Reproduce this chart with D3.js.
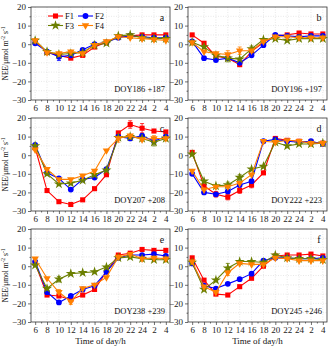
<!DOCTYPE html>
<html>
<head>
<meta charset="utf-8">
<script src="https://cdn.jsdelivr.net/npm/d3@7"></script>
<style>
  body { margin: 0; background: #fff; }
  svg text { font-family: "Liberation Serif", "DejaVu Serif", serif; }
</style>
</head>
<body>
<div id="chart"></div>
<script>
var hours = ["6","8","10","12","14","16","18","20","22","24","2","4"];
var seriesNames = ["F1","F2","F3","F4"];
var panelLetters = ["a","b","c","d","e","f"];
var panelDays = ["DOY186 +187","DOY196 +197","DOY207 +208","DOY222 +223","DOY238 +239","DOY245 +246"];
var yTicks = [20,10,0,-10,-20,-30];

// NEE values, one array per series for each panel
var neeA = [
  [1.5,-4.5,-6,-7.5,-6,-1.5,1,4,4.5,5,5,5],
  [0.5,-4,-6.8,-6,-3,0,1,3.5,4.5,4,3.5,3.5],
  [2,-4,-5.5,-5,-4.5,-0.5,0.5,4.5,5,3.5,3,3],
  [2,-4.5,-5,-4,-5,-0.5,1.5,4,3.5,3,2.5,2]
];
var neeB = [
  [5,0.5,-6.5,-7.5,-11,-4,1,4.5,5,6,5.5,5.5],
  [1.5,-7.5,-8.5,-7.5,-10,-6,-0.5,5,4.5,4,4.5,4.5],
  [1,-1.5,-6,-7.5,-8,-2.5,2.5,3,2,3,3,3],
  [1,-4,-5,-5.5,-3.5,-3.5,1.5,4,4,3.5,3.5,3.5]
];
var neeC = [
  [4,-19,-25,-26.5,-24,-18,-10.5,12,16.5,14.5,13,12.5],
  [5.5,-9.5,-12.5,-18.5,-13,-12,-7.5,10,9,10.5,7.5,10],
  [5,-10,-15.5,-15,-13.5,-10.5,-8,9.5,10,9,7,9],
  [3,-7.5,-13,-13,-11,-8.5,2.5,9,10.5,8.5,9,9]
];
var neeD = [
  [1.5,-16.5,-21,-22.5,-19,-16,-9.5,9,8,7.5,7,6.5],
  [-10,-20,-21,-19.5,-16,-14,7.5,8.5,7.5,7,7.5,6],
  [0.5,-14,-16.5,-16,-12,-7.5,-6,7,5,6,6,6.5],
  [-8.5,-18.5,-17,-17,-15,-10.5,7.5,7,8,7.5,6.5,6.5]
];
var neeE = [
  [1.5,-15.5,-16,-18,-15.5,-12.5,-3,6,7,9,8.5,8.5],
  [2.5,-14,-19.5,-16,-12.5,-10.5,-3,4.5,6,6,6.5,5.5],
  [0.5,-12,-7,-4,-3.5,-3,-0.5,4.5,5,4,3.5,3.5],
  [4,-6.5,-14,-19,-12,-10,-6,5,6.5,4,4.5,4]
];
var neeF = [
  [4.5,-7.5,-15,-15.5,-11,-6.5,0,5.5,6,6,6.5,5.5],
  [1.5,-10.5,-12,-9.5,-7,-4,3,4.5,4.5,4,4,4.5],
  [2,-12.5,-7.5,-1,2.5,2.5,2,6,4.5,4,4,3.5],
  [2.5,-11,-14,-3.5,1.5,1,1,4.5,4,3,3,3]
];
var panelData = [neeA, neeB, neeC, neeD, neeE, neeF];

// visible error bars: panel, series, hour index, half-width
var errBars = [
  [0,1,2,2],[0,2,3,1.5],[0,3,4,1.5],
  [1,3,3,2],[1,3,4,2],[1,2,3,2],[1,2,5,1.5],
  [2,0,8,2],[2,0,9,2.5],[2,3,7,2],[2,2,10,2],[2,3,10,1.5],
  [3,0,2,1.5],[3,0,3,1.5],[3,0,4,1.5],[3,0,5,1.5],[3,2,3,1.5],[3,2,4,1.5],
  [4,2,2,1.5],[4,3,2,1.5],[4,3,3,1.5],
  [5,2,3,2.5],[5,3,3,1.5]
];

var colors = ["#ff0000","#0000ff","#6b7f00","#ff8000"];
var symbols = [d3.symbolSquare, d3.symbolCircle, d3.symbolStar, d3.symbolTriangle];
var symSizes = [26, 26, 32, 24];

var W = 330, H = 347;
var colX = [31, 188], colW = 139;
var rowY = [7, 118, 229], rowH = 93;

var svg = d3.select("#chart").append("svg")
  .attr("width", W).attr("height", H);

function marker(g, s, x, y){
  g.append("path")
    .attr("d", d3.symbol().type(symbols[s]).size(symSizes[s]))
    .attr("transform", "translate(" + x + "," + y + ")" + (s == 3 ? " rotate(180)" : ""))
    .attr("fill", colors[s]);
}

panelData.forEach(function(series, p){
  var col = p % 2, row = Math.floor(p / 2);
  var g = svg.append("g").attr("transform", "translate(" + colX[col] + "," + rowY[row] + ")");

  var x = d3.scaleLinear().domain([-0.35, 11.35]).range([0, colW]);
  var y = d3.scaleLinear().domain([-30, 20]).range([rowH, 0]);

  // grid
  g.append("g").selectAll("line.gy").data(d3.range(-25, 20, 5)).enter().append("line")
    .attr("x1", 0).attr("x2", colW).attr("y1", d => y(d)).attr("y2", d => y(d))
    .attr("stroke", "#d8d8d8").attr("stroke-width", 0.6).attr("stroke-dasharray", "1,1.5");
  g.append("g").selectAll("line.gx").data(d3.range(0, 12)).enter().append("line")
    .attr("x1", d => x(d)).attr("x2", d => x(d)).attr("y1", 0).attr("y2", rowH)
    .attr("stroke", "#d8d8d8").attr("stroke-width", 0.6).attr("stroke-dasharray", "1,1.5");

  // axes
  var yAxis = d3.axisLeft(y).tickValues(yTicks).tickSize(3).tickPadding(2);
  var yMinor = d3.axisLeft(y).tickValues(d3.range(-25, 20, 10)).tickSize(1.5).tickFormat("");
  var xAxis = d3.axisBottom(x).tickValues(d3.range(0, 12)).tickFormat(i => hours[i]).tickSize(3).tickPadding(2);
  var xMinor = d3.axisBottom(x).tickValues(d3.range(0.5, 11, 1)).tickSize(1.5).tickFormat("");

  [g.append("g").call(yAxis), g.append("g").call(yMinor),
   g.append("g").attr("transform", "translate(0," + rowH + ")").call(xAxis),
   g.append("g").attr("transform", "translate(0," + rowH + ")").call(xMinor)].forEach(function(a){
    a.select(".domain").remove();
    a.selectAll("line").attr("stroke", "#333").attr("stroke-width", 0.7);
    a.selectAll("text").attr("font-size", "9px").attr("fill", "#222")
      .style("font-family", "'Liberation Serif', serif");
  });

  g.append("rect").attr("width", colW).attr("height", rowH)
    .attr("fill", "none").attr("stroke", "#333").attr("stroke-width", 0.8);

  // error bars
  errBars.filter(e => e[0] == p).forEach(function(e){
    var v = series[e[1]][e[2]];
    var cx = x(e[2]);
    var eg = g.append("g").attr("stroke", colors[e[1]]).attr("stroke-width", 0.8);
    eg.append("line").attr("x1", cx).attr("x2", cx).attr("y1", y(v - e[3])).attr("y2", y(v + e[3]));
    eg.append("line").attr("x1", cx - 2).attr("x2", cx + 2).attr("y1", y(v - e[3])).attr("y2", y(v - e[3]));
    eg.append("line").attr("x1", cx - 2).attr("x2", cx + 2).attr("y1", y(v + e[3])).attr("y2", y(v + e[3]));
  });

  // lines and markers
  var line = d3.line().x((d, i) => x(i)).y(d => y(d));
  series.forEach(function(vals, s){
    g.append("path").datum(vals).attr("d", line)
      .attr("fill", "none").attr("stroke", colors[s]).attr("stroke-width", 1.1);
    vals.forEach(function(v, i){ marker(g, s, x(i), y(v)); });
  });

  // panel letter and date label
  g.append("text").attr("x", colW - 8).attr("y", 14).attr("text-anchor", "middle")
    .attr("font-size", "10px").attr("fill", "#111").text(panelLetters[p]);
  g.append("text").attr("x", colW - 5).attr("y", rowH - 8).attr("text-anchor", "end")
    .attr("font-size", "8.5px").attr("fill", "#111").text(panelDays[p]);

  // y axis title, left column only
  if (col == 0) {
    var yt = g.append("text").attr("transform", "translate(" + (-23) + "," + (rowH / 2) + ") rotate(-90)")
      .attr("text-anchor", "middle").attr("font-size", "7.5px").attr("fill", "#111");
    yt.append("tspan").text("NEE/μmol m");
    yt.append("tspan").attr("dy", -3).attr("font-size", "5.5px").text("-2");
    yt.append("tspan").attr("dy", 3).text(" s");
    yt.append("tspan").attr("dy", -3).attr("font-size", "5.5px").text("-1");
  }

  // x axis title on bottom row
  if (row == 2) {
    g.append("text").attr("x", colW / 2).attr("y", rowH + 22).attr("text-anchor", "middle")
      .attr("font-size", "9px").attr("fill", "#111").text("Time of day/h");
  }

  // legend in first panel
  if (p == 0) {
    seriesNames.forEach(function(name, s){
      var lx = 17 + (s % 2) * 30, ly = 9 + Math.floor(s / 2) * 9.5;
      g.append("line").attr("x1", lx).attr("x2", lx + 15).attr("y1", ly).attr("y2", ly)
        .attr("stroke", colors[s]).attr("stroke-width", 1.1);
      marker(g, s, lx + 7.5, ly);
      g.append("text").attr("x", lx + 17).attr("y", ly + 3).attr("font-size", "8.5px")
        .attr("fill", "#111").text(name);
    });
  }
});
</script>
</body>
</html>
